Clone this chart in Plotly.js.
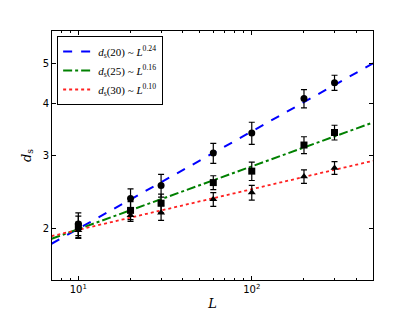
<!DOCTYPE html>
<html>
<head>
<meta charset="utf-8">
<script src="https://cdn.plot.ly/plotly-3.0.1.min.js"></script>
<style>html,body{margin:0;padding:0;background:#fff}#chart{width:415px;height:312px}</style>
</head>
<body>
<div id="chart"></div>
<script>
// Data
const L = [10, 20, 30, 60, 100, 200, 300];
const ds20 = [2.05, 2.36, 2.54, 3.04, 3.40, 4.12, 4.50];
const ds20err = [0.13, 0.13, 0.16, 0.17, 0.21, 0.21, 0.19];
const ds25 = [2.02, 2.21, 2.30, 2.58, 2.75, 3.18, 3.41];
const ds25err = [0.12, 0.11, 0.12, 0.10, 0.14, 0.15, 0.14];
const ds30 = [1.98, 2.15, 2.18, 2.35, 2.44, 2.67, 2.80];
const ds30err = [0.09, 0.07, 0.09, 0.09, 0.10, 0.10, 0.10];

// Fit lines (power laws), endpoints
const fitL = [7, 500];
const fit20 = [1.835, 5.01];
const fit25 = [1.886, 3.605];
const fit30 = [1.915, 2.913];

const legendNames = [
  '<i>d</i><sub>s</sub>(20) ~ <i>L</i><sup>0.24</sup>',
  '<i>d</i><sub>s</sub>(25) ~ <i>L</i><sup>0.16</sup>',
  '<i>d</i><sub>s</sub>(30) ~ <i>L</i><sup>0.10</sup>'
];
const xTickVals = [10, 100];
const xTickText = ['10<sup>1</sup>', '10<sup>2</sup>'];
const yTickVals = [2, 3, 4, 5];
const yTickText = ['2', '3', '4', '5'];

const lineTrace = (y, name, color, dash, w) => ({
  x: fitL, y: y, mode: 'lines', name: name,
  line: {color: color, dash: dash, width: w}
});
const ptTrace = (y, err, symbol, size) => ({
  x: L, y: y, mode: 'markers', showlegend: false,
  marker: {color: 'black', symbol: symbol, size: size},
  error_y: {type: 'data', array: err, visible: true, color: 'black', thickness: 1.2, width: 3}
});

const data = [
  lineTrace(fit20, legendNames[0], '#0000ff', 'dash', 2),
  lineTrace(fit25, legendNames[1], '#008000', 'dashdot', 2),
  lineTrace(fit30, legendNames[2], '#ff2020', 'dot', 1.8),
  ptTrace(ds20, ds20err, 'circle', 7),
  ptTrace(ds25, ds25err, 'square', 7),
  ptTrace(ds30, ds30err, 'triangle-up', 7)
];

const axisCommon = {
  type: 'log', showgrid: false, zeroline: false,
  showline: true, linecolor: 'black', linewidth: 1, mirror: 'ticks',
  ticks: 'inside', ticklen: 4, tickcolor: 'black', tickwidth: 1,
  tickfont: {family: 'DejaVu Sans', size: 10, color: '#000'}
};

const layout = {
  width: 415, height: 312,
  margin: {l: 52, r: 42, t: 31, b: 32},
  paper_bgcolor: '#fff', plot_bgcolor: '#fff',
  showlegend: true,
  legend: {
    x: 0.016, y: 0.98, xanchor: 'left', yanchor: 'top',
    bordercolor: 'black', borderwidth: 1, bgcolor: '#fff',
    font: {family: 'Liberation Serif', size: 11, color: '#000'},
    tracegroupgap: 0, itemwidth: 30
  },
  xaxis: Object.assign({}, axisCommon, {
    range: [Math.log10(7.05), Math.log10(500)],
    tickvals: xTickVals, ticktext: xTickText,
    minor: {ticks: 'inside', ticklen: 2, tickcolor: 'black', tickvals: [8, 9, 20, 30, 40, 50, 60, 70, 80, 90, 200, 300, 400]},
    title: {text: '<i>L</i>', font: {family: 'DejaVu Serif', size: 13, color: '#000'}, standoff: 4}
  }),
  yaxis: Object.assign({}, axisCommon, {
    range: [Math.log10(1.5), Math.log10(6.0)],
    tickvals: yTickVals, ticktext: yTickText,
    title: {text: '<i>d</i><sub>s</sub>', font: {family: 'DejaVu Serif', size: 13, color: '#000'}, standoff: 8}
  })
};

Plotly.newPlot('chart', data, layout, {staticPlot: true, displayModeBar: false});
</script>
</body>
</html>
